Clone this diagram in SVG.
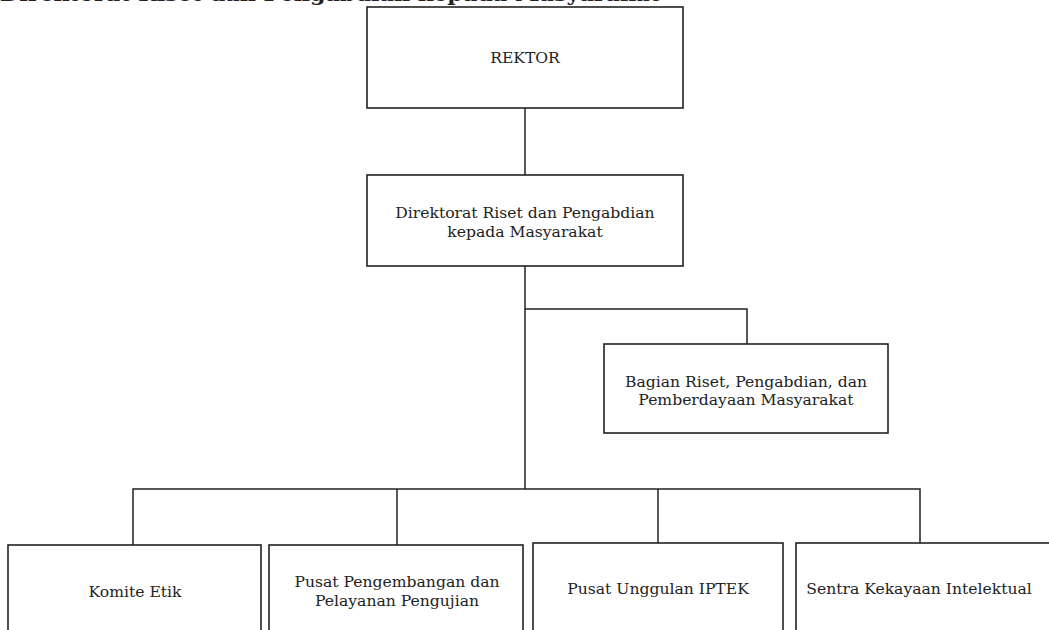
<svg xmlns="http://www.w3.org/2000/svg" width="1049" height="630" viewBox="0 0 1049 630">
<style>
.box{fill:#fff;stroke:#222;stroke-width:1.6}
.lbl{font-family:"DejaVu Serif","Liberation Serif",serif;font-size:15.6px;fill:#222;text-anchor:middle}
.conn{fill:none;stroke:#222;stroke-width:1.5}
.head{font-family:"DejaVu Serif","Liberation Serif",serif;font-size:20px;font-weight:bold;fill:#222}
</style>
<rect width="1049" height="630" fill="#fff"/>
<text class="head" x="0" y="1" textLength="660" lengthAdjust="spacingAndGlyphs">Direktorat Riset dan Pengabdian kepada Masyarakat</text>
<g id="connectors">
<path class="conn" d="M525 108V175"/>
<path class="conn" d="M525 266V489"/>
<path class="conn" d="M525 309H747V344"/>
<path class="conn" d="M133 545V489H920V545"/>
<path class="conn" d="M397 489V545"/>
<path class="conn" d="M658 489V545"/>
</g>
<g id="rektor">
<rect class="box" x="367" y="7" width="316" height="101"/>
<text class="lbl" x="525" y="63">REKTOR</text>
</g>
<g id="direktorat">
<rect class="box" x="367" y="175" width="316" height="91"/>
<text class="lbl" x="525" y="218">Direktorat Riset dan Pengabdian</text>
<text class="lbl" x="525" y="237">kepada Masyarakat</text>
</g>
<g id="bagian">
<rect class="box" x="604" y="344" width="284" height="89"/>
<text class="lbl" x="746" y="387">Bagian Riset, Pengabdian, dan</text>
<text class="lbl" x="746" y="405">Pemberdayaan Masyarakat</text>
</g>
<g id="komite">
<rect class="box" x="8" y="545" width="253" height="100"/>
<text class="lbl" x="135" y="597">Komite Etik</text>
</g>
<g id="pusat-pengembangan">
<rect class="box" x="269" y="545" width="254" height="100"/>
<text class="lbl" x="397" y="587">Pusat Pengembangan dan</text>
<text class="lbl" x="397" y="606">Pelayanan Pengujian</text>
</g>
<g id="pusat-unggulan">
<rect class="box" x="533" y="543" width="250" height="100"/>
<text class="lbl" x="658" y="594">Pusat Unggulan IPTEK</text>
</g>
<g id="sentra">
<rect class="box" x="796" y="543" width="270" height="100"/>
<text class="lbl" x="919" y="594">Sentra Kekayaan Intelektual</text>
</g>
</svg>
